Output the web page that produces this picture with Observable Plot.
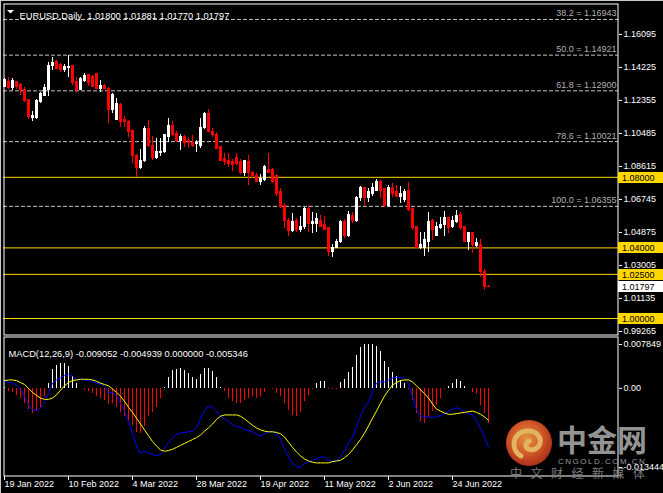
<!DOCTYPE html>
<html><head><meta charset="utf-8">
<script src="https://cdn.jsdelivr.net/npm/d3@7"></script>
<script src="https://cdn.jsdelivr.net/npm/@observablehq/plot@0.6"></script>
<style>
html,body{margin:0;padding:0;background:#000;}
#root{position:relative;width:663px;height:493px;overflow:hidden;background:#000;font-family:"Liberation Sans",Arial,sans-serif;}
#main{position:absolute;left:0;top:0;}
#macd{position:absolute;left:0;top:336px;}
#wm{position:absolute;left:0;top:0;pointer-events:none;}
.edge{position:absolute;background:#c8c8c8;}
</style></head>
<body><div id="root">
<div id="main"></div><div id="macd"></div>
<div class="edge" style="left:0;top:0;width:663px;height:1px;"></div>
<div class="edge" style="left:0;top:0;width:1px;height:493px;"></div>
<svg id="wm" width="663" height="493">
  <defs><radialGradient id="lg" cx="45%" cy="40%" r="62%"><stop offset="0" stop-color="#f6a048"/><stop offset="0.55" stop-color="#e2602c"/><stop offset="1" stop-color="#b8301c"/></radialGradient></defs>
  <g opacity="0.92">
  <circle cx="529" cy="443" r="23" fill="url(#lg)"/>
  <path d="M521 456 C510 450 512 432 527 431 C540 430 545 444 535 449 C528 452 522 445 529 441" fill="none" stroke="#f7c468" stroke-width="5" stroke-linecap="round"/>
  </g>
  <text x="557" y="451" font-family="Noto Sans CJK SC" font-weight="700" font-size="30" fill="#a8a8a8" fill-opacity="0.9">中金网</text>
  <text x="558" y="463.5" font-family="Liberation Sans" font-size="8" letter-spacing="1.5" fill="#9a9a9a">CNGOLD.COM.CN</text>
  <text x="510" y="478" font-family="Noto Sans CJK SC" font-size="12" letter-spacing="8.5" fill="#7c7c7c">中文财经新媒体</text>
</svg>
</div>
<script>
// ---- OHLC (daily bars, 19 Jan 2022 .. last bar) ----
const open = [1.1314,1.1339,1.1305,1.1339,1.1324,1.1297,1.1237,1.1135,1.1135,1.1225,
 1.1263,1.1292,1.1433,1.1452,1.1439,1.1409,1.1420,1.1428,1.1339,1.1297,
 1.1348,1.1377,1.1367,1.1386,1.1303,1.1320,1.1303,1.1184,1.1127,1.1212,
 1.1127,1.1116,1.1065,1.0923,1.0850,1.0890,1.1071,1.0980,1.0907,1.0935,
 1.0941,1.1026,1.1088,1.1048,1.1008,1.1026,1.1008,1.0997,1.0986,1.0975,
 1.1077,1.1156,1.1059,1.1037,1.0969,1.0901,1.0890,1.0884,1.0907,1.0884,
 1.0822,1.0884,1.0827,1.0810,1.0776,1.0782,1.0844,1.0839,1.0805,1.0714,
 1.0635,1.0555,1.0493,1.0550,1.0499,1.0516,1.0618,1.0538,1.0533,1.0555,
 1.0527,1.0510,1.0374,1.0402,1.0431,1.0544,1.0465,1.0578,1.0555,1.0680,
 1.0737,1.0685,1.0708,1.0725,1.0776,1.0731,1.0640,1.0742,1.0719,1.0691,
 1.0669,1.0725,1.0623,1.0516,1.0397,1.0402,1.0436,1.0550,1.0470,1.0510,
 1.0527,1.0567,1.0516,1.0544,1.0584,1.0516,1.0436,1.0482,1.0408,1.0419,
 1.0266,1.01800];
const high = [1.1360,1.1364,1.1360,1.1344,1.1330,1.1307,1.1239,1.1173,1.1241,1.1282,
 1.1324,1.1449,1.1480,1.1462,1.1447,1.1439,1.1490,1.1433,1.1364,1.1367,
 1.1390,1.1382,1.1375,1.1390,1.1348,1.1326,1.1309,1.1275,1.1246,1.1218,
 1.1144,1.1122,1.1071,1.0929,1.0958,1.1088,1.1122,1.1031,1.1020,1.1020,
 1.1042,1.1133,1.1116,1.1059,1.1042,1.1037,1.1026,1.1037,1.1008,1.1133,
 1.1167,1.1184,1.1077,1.1054,1.0975,1.0935,1.0935,1.0901,1.0935,1.0901,
 1.0895,1.0924,1.0833,1.0822,1.0816,1.0867,1.0935,1.0850,1.0816,1.0737,
 1.0652,1.0567,1.0595,1.0567,1.0578,1.0629,1.0640,1.0601,1.0595,1.0584,
 1.0578,1.0516,1.0419,1.0448,1.0555,1.0561,1.0606,1.0601,1.0691,1.0748,
 1.0742,1.0737,1.0765,1.0788,1.0782,1.0737,1.0754,1.0765,1.0754,1.0748,
 1.0731,1.0771,1.0629,1.0521,1.0487,1.0487,1.0601,1.0561,1.0544,1.0572,
 1.0606,1.0572,1.0578,1.0612,1.0601,1.0521,1.0487,1.0487,1.0453,1.0448,
 1.0278,1.01881];
const low = [1.1306,1.1296,1.1292,1.1296,1.1263,1.1225,1.1126,1.1118,1.1130,1.1216,
 1.1260,1.1260,1.1405,1.1409,1.1393,1.1393,1.1367,1.1320,1.1277,1.1296,
 1.1339,1.1314,1.1307,1.1296,1.1281,1.1297,1.1105,1.1161,1.1122,1.1082,
 1.1082,1.1026,1.0878,1.0799,1.0844,1.0884,1.0969,1.0895,1.0901,1.0918,
 1.0935,1.0997,1.1031,1.0997,1.0952,1.0969,1.0963,1.0969,1.0941,1.0963,
 1.1071,1.1054,1.1026,1.0958,1.0890,1.0867,1.0856,1.0833,1.0867,1.0816,
 1.0805,1.0754,1.0793,1.0771,1.0754,1.0776,1.0822,1.0765,1.0691,1.0623,
 1.0510,1.0465,1.0487,1.0487,1.0487,1.0504,1.0487,1.0482,1.0487,1.0516,
 1.0499,1.0351,1.0346,1.0397,1.0425,1.0453,1.0459,1.0538,1.0544,1.0663,
 1.0635,1.0657,1.0691,1.0719,1.0680,1.0629,1.0629,1.0685,1.0685,1.0652,
 1.0657,1.0606,1.0499,1.0397,1.0391,1.0351,1.0374,1.0442,1.0465,1.0504,
 1.0465,1.0482,1.0510,1.0538,1.0499,1.0431,1.0385,1.0368,1.0402,1.0232,
 1.0159,1.01770];
const close = [1.1351,1.1305,1.1343,1.1314,1.1292,1.1231,1.1141,1.1148,1.1231,1.1273,
 1.1305,1.1433,1.1447,1.1415,1.1409,1.1424,1.1424,1.1335,1.1296,1.1358,
 1.1373,1.1333,1.1311,1.1301,1.1320,1.1303,1.1184,1.1269,1.1218,1.1116,
 1.1111,1.1054,1.0923,1.0850,1.0895,1.1071,1.0980,1.0907,1.0941,1.0946,
 1.1037,1.1088,1.1042,1.1008,1.1026,1.0997,1.0992,1.0975,1.0992,1.1082,
 1.1156,1.1059,1.1042,1.0963,1.0895,1.0884,1.0873,1.0867,1.0873,1.0822,
 1.0890,1.0822,1.0805,1.0776,1.0788,1.0856,1.0827,1.0776,1.0708,1.0629,
 1.0550,1.0493,1.0544,1.0499,1.0521,1.0618,1.0533,1.0544,1.0561,1.0521,
 1.0504,1.0374,1.0402,1.0436,1.0544,1.0465,1.0584,1.0555,1.0685,1.0737,
 1.0680,1.0719,1.0737,1.0776,1.0725,1.0640,1.0742,1.0708,1.0691,1.0708,
 1.0714,1.0612,1.0510,1.0402,1.0414,1.0442,1.0544,1.0499,1.0516,1.0527,
 1.0567,1.0510,1.0550,1.0578,1.0510,1.0436,1.0482,1.0419,1.0425,1.0261,
 1.0176,1.01797];

// ---- MACD(12,26,9) panel ----
const macdHist = [0.0002,-0.0005,-0.0007,-0.0011,-0.0015,-0.0023,-0.0033,-0.0039,-0.0034,-0.0030,
 -0.0012,0.0008,0.0029,0.0035,0.0039,0.0038,0.0034,0.0019,0.0008,0.0000,
 -0.0003,-0.0005,-0.0008,-0.0012,-0.0015,-0.0019,-0.0025,-0.0023,-0.0030,-0.0037,
 -0.0043,-0.0051,-0.0058,-0.0068,-0.0069,-0.0059,-0.0043,-0.0038,-0.0029,-0.0015,
 0.0002,0.0017,0.0027,0.0029,0.0030,0.0027,0.0023,0.0016,0.0013,0.0021,
 0.0031,0.0030,0.0026,0.0016,0.0001,-0.0005,-0.0016,-0.0020,-0.0023,-0.0024,
 -0.0019,-0.0016,-0.0013,-0.0015,-0.0013,-0.0006,0.0000,-0.0001,-0.0008,-0.0013,
 -0.0023,-0.0034,-0.0042,-0.0043,-0.0038,-0.0021,-0.0011,-0.0002,0.0007,0.0010,
 0.0011,-0.0001,-0.0001,-0.0001,0.0009,0.0014,0.0024,0.0032,0.0051,0.0063,
 0.0067,0.0067,0.0067,0.0064,0.0057,0.0041,0.0032,0.0024,0.0018,0.0012,
 0.0008,-0.00015,-0.0019,-0.0039,-0.0051,-0.0054,-0.0045,-0.0036,-0.0027,-0.0015,
 -0.00015,0.0003,0.0008,0.0014,0.0010,0.0003,0.0000,-0.0007,-0.0010,-0.0026,
 -0.0039,-0.005346];
const macdMain = [0.0012,0.0009,0.0008,0.0005,-0.0002,-0.0012,-0.0025,-0.0033,-0.0034,-0.0030,
 -0.0022,-0.0007,0.0008,0.0013,0.0016,0.0020,0.0022,0.0019,0.0013,0.0014,
 0.0013,0.0012,0.0011,0.0008,0.0007,0.0003,-0.0007,-0.0006,-0.0012,-0.0023,
 -0.0035,-0.0051,-0.0069,-0.0089,-0.0100,-0.0097,-0.0100,-0.0102,-0.0104,-0.0102,
 -0.0092,-0.0083,-0.0076,-0.0071,-0.0069,-0.0068,-0.0067,-0.0066,-0.0061,-0.0046,
 -0.0034,-0.0028,-0.0029,-0.0035,-0.0044,-0.0047,-0.0051,-0.0056,-0.0059,-0.0060,
 -0.0064,-0.0065,-0.0067,-0.0071,-0.0073,-0.0070,-0.0067,-0.0067,-0.0070,-0.0078,
 -0.0093,-0.0106,-0.0116,-0.0121,-0.0122,-0.0116,-0.0114,-0.0111,-0.0109,-0.0106,
 -0.0106,-0.0111,-0.0113,-0.0112,-0.0105,-0.0096,-0.0085,-0.0076,-0.0059,-0.0043,
 -0.0029,-0.0021,-0.0005,0.0008,0.0010,0.0010,0.0013,0.0016,0.0017,0.0017,
 0.0016,0.0008,-0.0013,-0.0033,-0.0043,-0.0045,-0.0044,-0.0045,-0.0044,-0.0042,
 -0.0039,-0.0036,-0.0032,-0.0030,-0.0032,-0.0036,-0.0039,-0.0041,-0.0049,-0.0062,
 -0.0074,-0.009052];
const macdSignal = [0.0012,0.0013,0.0013,0.0012,0.0009,0.0006,0.0000,-0.0006,-0.0011,-0.0015,
 -0.0017,-0.0017,-0.0015,-0.0010,-0.0003,0.0004,0.0009,0.0012,0.0013,0.0014,
 0.0014,0.0014,0.0013,0.0011,0.0008,0.0006,0.0004,-0.0001,-0.0006,-0.0012,
 -0.0020,-0.0029,-0.0037,-0.0046,-0.0055,-0.0064,-0.0073,-0.0082,-0.0089,-0.0095,
 -0.0097,-0.0096,-0.0094,-0.0091,-0.0088,-0.0085,-0.0082,-0.0079,-0.0076,-0.0072,
 -0.0066,-0.0061,-0.0055,-0.0048,-0.0043,-0.0041,-0.0041,-0.0041,-0.0041,-0.0043,
 -0.0047,-0.0052,-0.0057,-0.0061,-0.0064,-0.0066,-0.0067,-0.0067,-0.0068,-0.0070,
 -0.0075,-0.0083,-0.0091,-0.0098,-0.0104,-0.0109,-0.0112,-0.0114,-0.0115,-0.0115,
 -0.0115,-0.0115,-0.0113,-0.0112,-0.0111,-0.0107,-0.0102,-0.0095,-0.0087,-0.0079,
 -0.0069,-0.0058,-0.0046,-0.0035,-0.0023,-0.0012,-0.0003,0.0005,0.0009,0.0012,
 0.0013,0.0013,0.0010,0.0004,-0.0002,-0.0008,-0.0015,-0.0024,-0.0032,-0.0035,
 -0.0038,-0.0040,-0.0040,-0.0039,-0.0038,-0.0037,-0.0036,-0.0035,-0.0037,-0.0040,
 -0.0044,-0.004939];
const macdRange = [-0.013444, 0.007849];

// ---- levels, ticks, labels ----
const fibPct = [38.2, 50.0, 61.8, 78.6, 100.0];
const fibPrice = [1.16943, 1.14921, 1.12900, 1.10021, 1.06355];
const levelPrices = [1.08000, 1.04000, 1.02500, 1.00000];
const priceTicks = [1.16095, 1.14225, 1.12355, 1.10485, 1.08615, 1.06745, 1.04875, 1.03005, 1.01135, 0.99265];
const priceRange = [0.99065, 1.17819];
const dateTickBars = [0, 16, 32, 48, 64, 80, 96, 112];
const dateTickLabels = ["19 Jan 2022","10 Feb 2022","4 Mar 2022","28 Mar 2022","19 Apr 2022","11 May 2022","2 Jun 2022","24 Jun 2022"];
const symbolName = "EURUSD,Daily";

// ---- build tables ----
const n = close.length;
const bars = close.map((c, i) => ({i, o: open[i], h: high[i], l: low[i], c, up: c >= open[i],
  hist: macdHist[i], main: macdMain[i], signal: macdSignal[i]}));
const fibs = fibPct.map((p, k) => ({p, price: fibPrice[k]}));
const last = n - 1;
const titleText = `${symbolName}  ${open[last].toFixed(5)} ${high[last].toFixed(5)} ${low[last].toFixed(5)} ${close[last].toFixed(5)}`;
const macdText = `MACD(12,26,9) ${macdMain[last].toFixed(6)} ${macdSignal[last].toFixed(6)} ${(0).toFixed(6)} ${macdHist[last].toFixed(6)}`;

const font = "Liberation Sans, Arial, sans-serif";
const xScale = {type: "linear", domain: [0, n - 1], range: [4, 4 + 4 * (n - 1)]};

const mainPlot = Plot.plot({
  width: 663, height: 336,
  marginLeft: 3, marginRight: 45, marginTop: 3, marginBottom: 1,
  style: {background: "#000", color: "#fff", fontFamily: font, fontSize: "9px", overflow: "visible"},
  x: {...xScale, axis: null},
  y: {type: "linear", domain: priceRange, range: [334.5, 3.5]},
  marks: [
    Plot.ruleY(fibs, {y: "price", stroke: "#c4c4c4", strokeDasharray: "4,2"}),
    Plot.text(fibs, {y: "price", text: d => `${d.p.toFixed(1)} = ${d.price.toFixed(5)}`, frameAnchor: "right",
      textAnchor: "end", dx: -2, dy: -6, fill: "#b0b0b0", fontSize: 9}),
    Plot.ruleY(levelPrices, {stroke: "#ffd700"}),
    Plot.ruleX(bars, {x: "i", y1: "l", y2: "h", stroke: d => d.up ? "#ffffff" : "#ff0000", shapeRendering: "crispEdges"}),
    Plot.rect(bars, {x1: d => d.i - 0.375, x2: d => d.i + 0.375, y1: "o", y2: "c",
      fill: d => d.up ? "#ffffff" : "#ff0000", insetTop: -0.5, insetBottom: -0.5, shapeRendering: "crispEdges"}),
    Plot.axisY({ticks: priceTicks, anchor: "right", label: null, tickSize: 3, tickPadding: 2, tickFormat: d => d.toFixed(5), fontSize: 9}),
    Plot.frame({stroke: "#ffffff", inset: 0.5}),
    Plot.text([titleText], {frameAnchor: "top-left", text: d => d, dx: 16, dy: 9, textAnchor: "start", fill: "#ffffff", fontSize: 9.3})
  ]
});

// highlighted price labels on the right axis
{
  const ys = mainPlot.scale("y");
  const svg = d3.select(mainPlot);
  const g = svg.append("g").attr("font-family", font).attr("font-size", 9).attr("text-anchor", "start");
  const boxes = levelPrices.map(v => ({v, bg: "#ffd700"})).concat([{v: close[last], bg: "#ffffff"}]);
  for (const b of boxes) {
    const y = ys.apply(b.v);
    g.append("rect").attr("x", 618).attr("y", Math.round(y) - 5).attr("width", 45).attr("height", 11).attr("fill", b.bg);
    g.append("text").attr("x", 622).attr("y", Math.round(y) + 0.5).attr("dy", "0.35em")
      .attr("text-anchor", "start").attr("fill", "#000").text(b.v.toFixed(5));
  }
  svg.append("polygon").attr("points", "7,10 14,10 10.5,13.5").attr("fill", "#fff");
}
document.getElementById("main").appendChild(mainPlot);

const macdPlot = Plot.plot({
  width: 663, height: 157,
  marginLeft: 3, marginRight: 45, marginTop: 0, marginBottom: 17,
  style: {background: "#000", color: "#fff", fontFamily: font, fontSize: "9px", overflow: "visible"},
  x: xScale,
  y: {type: "linear", domain: macdRange, range: [139, 1]},
  marks: [
    Plot.ruleX(bars, {x: "i", y1: 0, y2: "hist", stroke: d => d.hist >= 0 ? "#ffffff" : "#ff0000", shapeRendering: "crispEdges"}),
    Plot.line(bars, {x: "i", y: "main", stroke: "#0000ff", strokeWidth: 1}),
    Plot.line(bars, {x: "i", y: "signal", stroke: "#ffff00", strokeWidth: 1}),
    Plot.axisY([0], {anchor: "right", label: null, tickSize: 3, tickPadding: 2, tickFormat: () => "0.00", fontSize: 9}),
    Plot.axisY([macdRange[1]], {anchor: "right", label: null, tickSize: 3, tickPadding: 2, tickFormat: d => d.toFixed(6), dy: 7, fontSize: 9}),
    Plot.axisY([macdRange[0]], {anchor: "right", label: null, tickSize: 3, tickPadding: 2, tickFormat: d => d.toFixed(6), dy: -8, fontSize: 9}),
    Plot.axisX({ticks: dateTickBars, anchor: "bottom", label: null, tickSize: 4, tickPadding: 0, textAnchor: "start",
      tickFormat: d => dateTickLabels[dateTickBars.indexOf(d)], fontSize: 9}),
    Plot.frame({stroke: "#ffffff", inset: 0.5}),
    Plot.text([macdText], {frameAnchor: "top-left", text: d => d, dx: 5, dy: 13.5, textAnchor: "start", fill: "#ffffff", fontSize: 9.3})
  ]
});
document.getElementById("macd").appendChild(macdPlot);
</script>
</body></html>
